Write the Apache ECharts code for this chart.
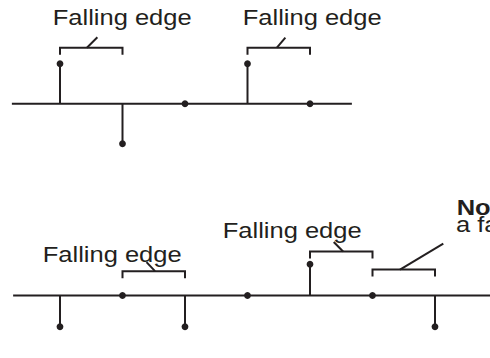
<!DOCTYPE html>
<html>
<head>
<meta charset="utf-8">
<script src="https://cdn.jsdelivr.net/npm/echarts@6/dist/echarts.min.js"></script>
<style>
  html, body { margin: 0; padding: 0; background: #fff; }
  #chart { width: 490px; height: 358px; }
</style>
</head>
<body>
<div id="chart"></div>
<script>
// sample index n and value x[n] for each sequence
var topIndex = [0, 1, 2, 3, 4];
var topValues = [1, -1, 0, 1, 0];
var bottomIndex = [0, 1, 2, 3, 4, 5, 6];
var bottomValues = [-1, 0, -1, 0, 1, 0, -1];

// extent of the horizontal axis line (in sample units)
var topAxisSpan = [-0.77, 4.67];
var bottomAxisSpan = [-0.75, 7.2];

// brackets: [from sample, to sample, level]
var topBrackets = [[0, 1, 1.4], [3, 4, 1.4]];
var bottomBrackets = [[1, 2, 0.78], [4, 5, 1.41], [5, 6, 0.83]];

// labels
var labelText = 'Falling edge';
var noteTitle = 'Not';
var noteText = 'a falling edge';

var INK = '#231f20';
// leader tick per bracket: [fraction along bracket, dx, dy] (pixels)
var topLeaders = [[0.43, 10.5, -10.5], [0.47, 8.5, -10]];
var bottomLeaders = [[0.52, -8.5, -9], [0.53, -9.4, -9.4], [0.44, 43.3, -26]];

function stemData(idx, vals) {
    return idx.map(function(n, i) { return [n, vals[i]]; });
}

function renderStem(params, api) {
    var n = api.value(0), v = api.value(1);
    var p0 = api.coord([n, 0]);
    var p1 = api.coord([n, v]);
    var children = [];
    if (v !== 0) {
        children.push({
            type: 'line',
            shape: { x1: p0[0], y1: p0[1], x2: p1[0], y2: p1[1] },
            style: { stroke: INK, lineWidth: 2 }
        });
    }
    children.push({
        type: 'circle',
        shape: { cx: p1[0], cy: p1[1], r: 3.4 },
        style: { fill: INK }
    });
    return { type: 'group', children: children };
}

function bracketRenderer(leaders) {
    return function(params, api) {
        var a = api.coord([api.value(0), api.value(2)]);
        var b = api.coord([api.value(1), api.value(2)]);
        var ld = leaders[params.dataIndex];
        var fx = a[0] + ld[0] * (b[0] - a[0]);
        return {
            type: 'group',
            children: [{
                type: 'polyline',
                shape: { points: [[a[0], a[1] + 7], [a[0], a[1]], [b[0], b[1]], [b[0], b[1] + 7]] },
                style: { stroke: INK, lineWidth: 2, fill: null }
            }, {
                type: 'line',
                shape: { x1: fx, y1: a[1], x2: fx + ld[1], y2: a[1] + ld[2] },
                style: { stroke: INK, lineWidth: 2 }
            }]
        };
    };
}

function label(x, y, text, weight) {
    return {
        type: 'text',
        x: x,
        y: y,
        scaleX: 1.16,
        style: {
            text: text,
            x: 0,
            y: 0,
            fill: INK,
            font: (weight || 'normal') + ' 22px "Liberation Sans", Arial, sans-serif',
            textVerticalAlign: 'top'
        }
    };
}

var chart = echarts.init(document.getElementById('chart'), null, { renderer: 'svg' });

var xAx = { type: 'value', min: -0.96, max: 6.88, show: false };
var yAx = { type: 'value', min: -2, max: 2, show: false };

var option = {
    animation: false,
    backgroundColor: '#fff',
    grid: [
        { left: 0, right: 0, top: 23.7, height: 160 },
        { left: 0, right: 0, top: 233, height: 160 }
    ],
    xAxis: [Object.assign({ gridIndex: 0 }, xAx), Object.assign({ gridIndex: 1 }, xAx)],
    yAxis: [Object.assign({ gridIndex: 0 }, yAx), Object.assign({ gridIndex: 1 }, yAx)],
    series: [
        {
            type: 'line', xAxisIndex: 0, yAxisIndex: 0, symbol: 'none',
            data: [[topAxisSpan[0], 0], [topAxisSpan[1], 0]],
            lineStyle: { color: INK, width: 2 }
        },
        {
            type: 'line', xAxisIndex: 1, yAxisIndex: 1, symbol: 'none',
            data: [[bottomAxisSpan[0], 0], [bottomAxisSpan[1], 0]],
            lineStyle: { color: INK, width: 2 }
        },
        {
            type: 'custom', xAxisIndex: 0, yAxisIndex: 0,
            data: stemData(topIndex, topValues), renderItem: renderStem
        },
        {
            type: 'custom', xAxisIndex: 1, yAxisIndex: 1,
            data: stemData(bottomIndex, bottomValues), renderItem: renderStem
        },
        {
            type: 'custom', xAxisIndex: 0, yAxisIndex: 0,
            data: topBrackets, renderItem: bracketRenderer(topLeaders)
        },
        {
            type: 'custom', xAxisIndex: 1, yAxisIndex: 1,
            data: bottomBrackets, renderItem: bracketRenderer(bottomLeaders)
        }
    ],
    graphic: [
        label(52.7, 6, labelText),
        label(242.7, 6, labelText),
        label(42.7, 242.7, labelText),
        label(222.7, 219.3, labelText),
        label(456.7, 196, noteTitle, 'bold'),
        label(456, 213.3, noteText)
    ]
};

chart.setOption(option);
</script>
</body>
</html>
